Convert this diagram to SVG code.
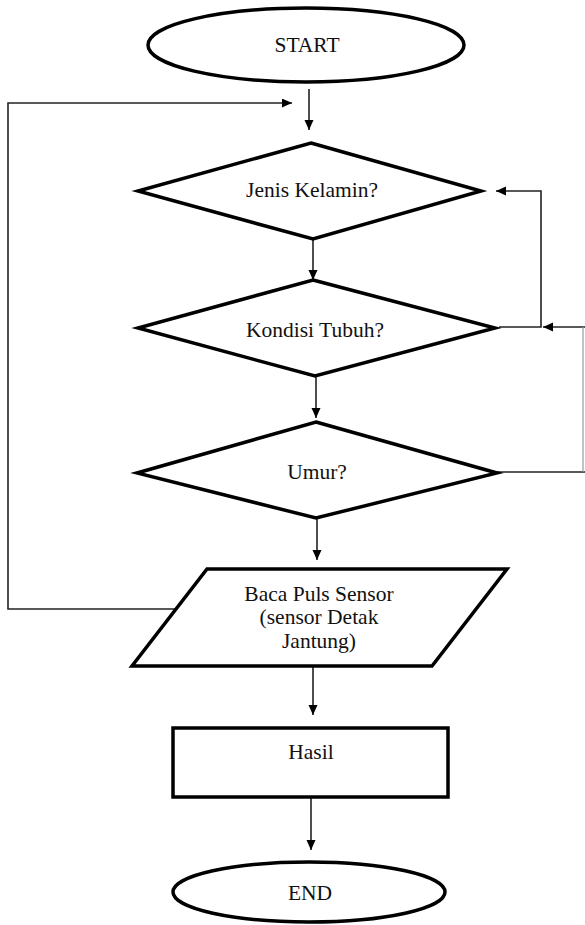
<svg xmlns="http://www.w3.org/2000/svg" width="585" height="925" viewBox="0 0 585 925">
<style>
.shape{fill:#fff;stroke:#000;stroke-width:3.5;stroke-linejoin:miter}
.conn{fill:none;stroke:#222;stroke-width:1.6}
.faint{fill:none;stroke:#999;stroke-width:1.2}
.t{font-family:"Liberation Serif","Times New Roman",serif;font-size:21.5px;fill:#111;text-anchor:middle}
</style>
<defs>
<marker id="ah" markerUnits="userSpaceOnUse" markerWidth="11" markerHeight="10" refX="10" refY="4.5" orient="auto">
<path d="M0,0 L10,4.5 L0,9 z" fill="#000"/>
</marker>
</defs>
<rect width="585" height="925" fill="#fff"/>
<g id="connectors">
<line class="conn" x1="309" y1="89" x2="309" y2="130" marker-end="url(#ah)"/>
<polyline class="conn" points="175,609 8,609 8,103 292,103" marker-end="url(#ah)"/>
<line class="conn" x1="313" y1="239" x2="313" y2="280" marker-end="url(#ah)"/>
<line class="conn" x1="316" y1="376" x2="316" y2="418" marker-end="url(#ah)"/>
<line class="conn" x1="317" y1="518" x2="317" y2="560" marker-end="url(#ah)"/>
<line class="conn" x1="313" y1="667" x2="313" y2="715" marker-end="url(#ah)"/>
<line class="conn" x1="311" y1="797" x2="311" y2="850" marker-end="url(#ah)"/>
<polyline class="conn" points="499,327 541,327 541,191 496,191" marker-end="url(#ah)"/>
<line class="conn" x1="585" y1="327" x2="543" y2="327" marker-end="url(#ah)"/>
<line class="conn" x1="497" y1="472" x2="585" y2="472"/>
<line class="faint" x1="583" y1="327" x2="583" y2="472"/>
</g>
<g id="start">
<ellipse class="shape" cx="306" cy="45" rx="158" ry="37"/>
<text class="t" x="307" y="52">START</text>
</g>
<g id="jenis-kelamin">
<polygon class="shape" points="311,143 481,191 313,239 138,191"/>
<text class="t" x="312" y="197">Jenis Kelamin?</text>
</g>
<g id="kondisi-tubuh">
<polygon class="shape" points="313,280 495,328 315,376 138,328"/>
<text class="t" x="315" y="337">Kondisi Tubuh?</text>
</g>
<g id="umur">
<polygon class="shape" points="316,422 497,473 316,518 137,473"/>
<text class="t" x="317" y="479">Umur?</text>
</g>
<g id="baca-puls-sensor">
<polygon class="shape" points="207,569 507,569 432,666 132,666"/>
<text class="t" x="319" y="601">Baca Puls Sensor</text>
<text class="t" x="319" y="624">(sensor Detak</text>
<text class="t" x="319" y="648">Jantung)</text>
</g>
<g id="hasil">
<rect class="shape" x="173" y="728" width="275" height="69"/>
<text class="t" x="311" y="759">Hasil</text>
</g>
<g id="end">
<ellipse class="shape" cx="309" cy="892" rx="136" ry="30"/>
<text class="t" x="310" y="900">END</text>
</g>
</svg>
